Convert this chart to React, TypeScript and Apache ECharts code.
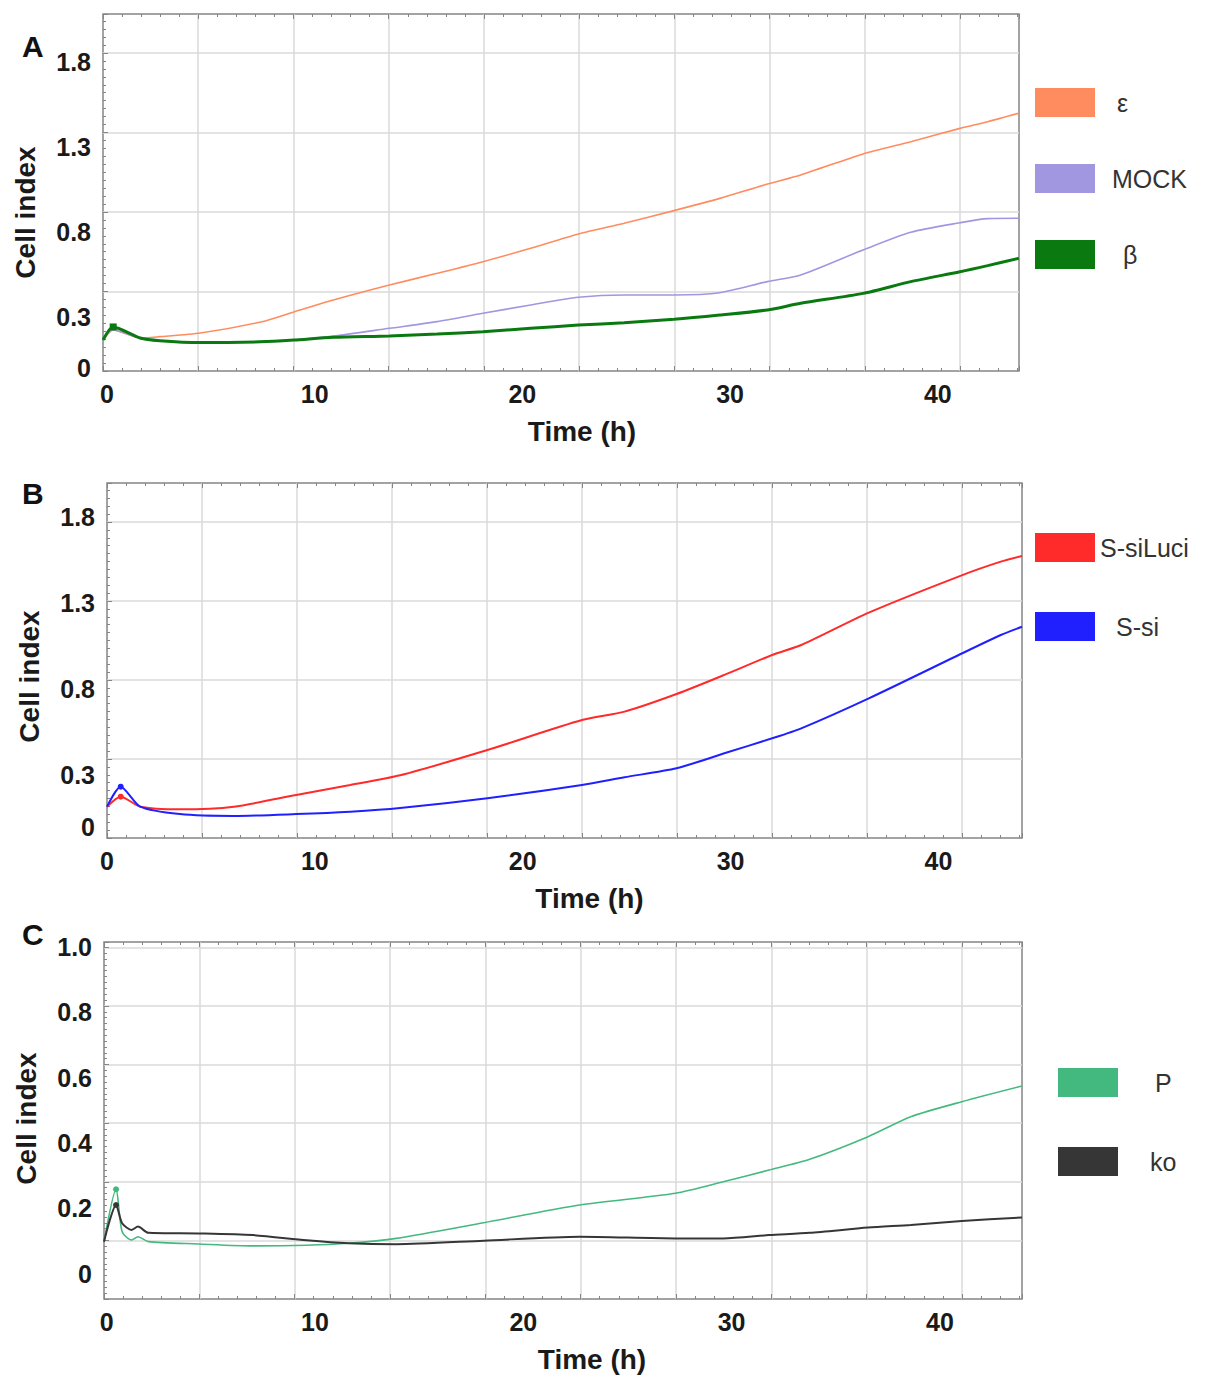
import React, { useEffect, useRef } from 'react';
import * as echarts from 'echarts';

const FONT = "'Liberation Sans', Arial, Helvetica, sans-serif";
const TEXT = '#1a1a1a';
const FRAME = '#858585';
const GRIDLINE = '#dadada';

// ---------- Panel A ----------
const timeA = [-0.19, 0.3, 1.6, 2.55, 4.5, 7.4, 9.0, 10.9, 13.6, 15.9, 18.1, 20.4, 22.7, 24.9, 27.3, 29.5, 31.8, 33.4, 36.4, 38.7, 41.07, 42.4, 43.9];
const epsilonA = [0.167, 0.226, 0.179, 0.187, 0.208, 0.273, 0.332, 0.402, 0.49, 0.559, 0.627, 0.706, 0.79, 0.853, 0.927, 0.999, 1.083, 1.136, 1.26, 1.332, 1.41, 1.449, 1.499];
const mockA = [0.167, 0.226, 0.177, 0.162, 0.153, 0.158, 0.168, 0.19, 0.236, 0.275, 0.324, 0.373, 0.418, 0.432, 0.432, 0.445, 0.51, 0.549, 0.696, 0.8, 0.856, 0.88, 0.882];
const betaA = [0.167, 0.244, 0.179, 0.163, 0.152, 0.157, 0.167, 0.183, 0.191, 0.203, 0.216, 0.236, 0.255, 0.269, 0.289, 0.314, 0.344, 0.383, 0.441, 0.51, 0.568, 0.604, 0.647];

// ---------- Panel B ----------
const timeB = [0, 0.66, 1.6, 3.5, 6.1, 9.1, 11.7, 14.1, 18.3, 22.85, 24.9, 27.4, 29.7, 32.0, 33.4, 36.65, 41.15, 43.0, 44.02];
const siLuciB = [0.118, 0.176, 0.118, 0.103, 0.118, 0.186, 0.244, 0.3, 0.447, 0.621, 0.67, 0.772, 0.883, 0.999, 1.057, 1.245, 1.463, 1.541, 1.574];
const siB = [0.118, 0.234, 0.118, 0.075, 0.064, 0.075, 0.089, 0.11, 0.167, 0.244, 0.289, 0.341, 0.428, 0.515, 0.573, 0.747, 1.009, 1.115, 1.163];

// ---------- Panel C ----------
const timeC = [-0.13, 0.45, 0.74, 1.2, 1.5, 2.0, 4.4, 7.0, 9.6, 11.6, 13.9, 18.1, 22.7, 27.3, 29.6, 31.8, 33.75, 36.55, 38.6, 41.05, 43.94];
const pC = [0.098, 0.258, 0.128, 0.103, 0.113, 0.098, 0.091, 0.085, 0.087, 0.093, 0.108, 0.156, 0.21, 0.246, 0.281, 0.317, 0.35, 0.419, 0.48, 0.526, 0.574];
const koC = [0.098, 0.21, 0.154, 0.134, 0.144, 0.125, 0.123, 0.118, 0.102, 0.093, 0.09, 0.101, 0.113, 0.108, 0.108, 0.118, 0.125, 0.141, 0.149, 0.161, 0.172];

// ---------- Tick labels ----------
const xTickLabels = [0, 10, 20, 30, 40];
const yTickLabelsAB = [0, 0.3, 0.8, 1.3, 1.8];
const yTickLabelsC = [0, 0.2, 0.4, 0.6, 0.8, 1.0];
const panelLetters = ['A', 'B', 'C'];

type SeriesDef = { name: string; time: number[]; values: number[]; color: string; width: number; peak?: number; peakSymbol?: string; pad: number };

const panels = [
  {
    box: [103, 14, 916, 357],
    xRange: [-0.19, 43.91],
    yRange: [-0.0147, 2.0816],
    gridX: 9.617,
    gridY: 4.49,
    yTicks: yTickLabelsAB,
    yFmt: (v: number) => String(v),
    xNameShift: 21,
    yNameShift: 20,
    letterTop: 31,
    legend: { left: 1035, top: 88, gap: 47, textColor: '#333' },
    series: [
      { name: 'ε', time: timeA, values: epsilonA, color: '#FF8C5F', width: 1.6, pad: 17 },
      { name: 'MOCK', time: timeA, values: mockA, color: '#A097E0', width: 1.6, pad: 12 },
      { name: 'β', time: timeA, values: betaA, color: '#0A7A10', width: 3, peak: 1, peakSymbol: 'rect', pad: 23 },
    ] as SeriesDef[],
  },
  {
    box: [107, 483, 915, 355],
    xRange: [0, 44.02],
    yRange: [-0.0639, 1.9977],
    gridX: 9.63,
    gridY: 4.494,
    yTicks: yTickLabelsAB,
    yFmt: (v: number) => String(v),
    xNameShift: 25,
    yNameShift: 16,
    letterTop: 478,
    legend: { left: 1035, top: 533, gap: 50, textColor: '#333' },
    series: [
      { name: 'S-siLuci', time: timeB, values: siLuciB, color: '#FF2A2A', width: 2, peak: 1, peakSymbol: 'circle', pad: 0 },
      { name: 'S-si', time: timeB, values: siB, color: '#2020FF', width: 2, peak: 1, peakSymbol: 'circle', pad: 16 },
    ] as SeriesDef[],
  },
  {
    box: [104, 942, 918, 357],
    xRange: [-0.13, 43.94],
    yRange: [-0.0774, 1.0144],
    gridX: 9.63,
    gridY: 6.09,
    yTicks: yTickLabelsC,
    yFmt: (v: number) => (v === 0 ? '0' : v.toFixed(1)),
    xNameShift: 29,
    yNameShift: -2,
    letterTop: 919,
    legend: { left: 1058, top: 1068, gap: 50, textColor: '#333' },
    series: [
      { name: 'P', time: timeC, values: pC, color: '#44B97F', width: 1.6, peak: 1, peakSymbol: 'circle', pad: 32 },
      { name: 'ko', time: timeC, values: koC, color: '#363636', width: 2, peak: 1, peakSymbol: 'circle', pad: 27 },
    ] as SeriesDef[],
  },
];

function buildOption() {
  const grid: any[] = [];
  const xAxis: any[] = [];
  const yAxis: any[] = [];
  const series: any[] = [];
  const legend: any[] = [];
  const title: any[] = [];

  const tickStyle = { color: FRAME, width: 1 };

  panels.forEach((p, i) => {
    const [left, top, width, height] = p.box;
    grid.push({ left, top, width, height, show: true, borderColor: FRAME, borderWidth: 1.5, backgroundColor: '#fff' });

    const xData = xAxis.length;
    xAxis.push({
      type: 'value', gridIndex: i, min: p.xRange[0], max: p.xRange[1], position: 'bottom',
      axisLine: { show: false, onZero: false }, axisTick: { show: false }, splitLine: { show: false },
      axisLabel: {
        customValues: xTickLabels, fontSize: 25, fontWeight: 'bold', color: TEXT, fontFamily: FONT, margin: 10,
        formatter: (v: number) => String(v),
      },
      name: 'Time (h)', nameLocation: 'middle', nameGap: 46,
      nameTextStyle: { fontSize: 28, fontWeight: 'bold', color: TEXT, fontFamily: FONT, padding: [0, 0, 0, p.xNameShift * 2] },
    });
    xAxis.push({
      type: 'value', gridIndex: i, min: 0, max: p.gridX, interval: 1, position: 'bottom',
      axisLine: { show: false, onZero: false }, axisLabel: { show: false },
      axisTick: { show: true, inside: true, length: 5, lineStyle: tickStyle },
      minorTick: { show: true, splitNumber: 5, length: 3, lineStyle: tickStyle },
      splitLine: { show: true, showMinLine: false, showMaxLine: false, lineStyle: { color: GRIDLINE, width: 1.5 } },
    });
    xAxis.push({
      type: 'value', gridIndex: i, min: 0, max: p.gridX, interval: 1, position: 'top',
      axisLine: { show: false, onZero: false }, axisLabel: { show: false },
      axisTick: { show: true, inside: true, length: 5, lineStyle: tickStyle },
      minorTick: { show: true, splitNumber: 5, length: 3, lineStyle: tickStyle },
      splitLine: { show: false },
    });

    const yData = yAxis.length;
    yAxis.push({
      type: 'value', gridIndex: i, min: p.yRange[0], max: p.yRange[1], position: 'left',
      axisLine: { show: false, onZero: false }, axisTick: { show: false }, splitLine: { show: false },
      axisLabel: {
        customValues: p.yTicks, fontSize: 25, fontWeight: 'bold', color: TEXT, fontFamily: FONT, margin: 12,
        formatter: p.yFmt,
      },
      name: 'Cell index', nameLocation: 'middle', nameGap: 64, nameRotate: 90,
      nameTextStyle: {
        fontSize: 28, fontWeight: 'bold', color: TEXT, fontFamily: FONT,
        padding: p.yNameShift >= 0 ? [0, p.yNameShift * 2, 0, 0] : [0, 0, 0, -p.yNameShift * 2],
      },
    });
    yAxis.push({
      type: 'value', gridIndex: i, min: 0, max: p.gridY, interval: 1, position: 'left',
      axisLine: { show: false, onZero: false }, axisLabel: { show: false },
      axisTick: { show: true, inside: true, length: 5, lineStyle: tickStyle },
      minorTick: { show: true, splitNumber: 10, length: 3, lineStyle: tickStyle },
      splitLine: { show: true, showMinLine: false, showMaxLine: false, lineStyle: { color: GRIDLINE, width: 1.5 } },
    });

    p.series.forEach((s) => {
      const item: any = {
        type: 'line', name: s.name, xAxisIndex: xData, yAxisIndex: yData,
        data: s.time.map((t, k) => [t, s.values[k]]),
        showSymbol: false, smooth: 0.25,
        color: s.color, lineStyle: { color: s.color, width: s.width },
        emphasis: { disabled: true }, silent: true,
      };
      if (s.peak != null) {
        item.markPoint = {
          silent: true,
          symbol: s.peakSymbol, symbolSize: s.peakSymbol === 'rect' ? 7 : 6,
          itemStyle: { color: s.color },
          label: { show: false },
          data: [{ coord: [s.time[s.peak], s.values[s.peak]] }],
        };
      }
      series.push(item);
    });

    const rich: any = {};
    p.series.forEach((s, k) => {
      rich['p' + k] = { fontSize: 25, color: p.legend.textColor, fontFamily: FONT, padding: [0, 0, 0, Math.max(0, s.pad)] };
    });
    const names = p.series.map((s) => s.name);
    legend.push({
      data: names, left: p.legend.left, top: p.legend.top, orient: 'vertical',
      itemWidth: 60, itemHeight: 29, itemGap: p.legend.gap, icon: 'rect', padding: 0,
      selectedMode: false,
      textStyle: { fontSize: 25, color: p.legend.textColor, fontFamily: FONT, rich },
      formatter: (name: string) => `{p${names.indexOf(name)}|${name}}`,
    });

    title.push({
      text: panelLetters[i], left: 22, top: p.letterTop, padding: 0,
      textStyle: { fontSize: 30, fontWeight: 'bold', color: '#111', fontFamily: FONT },
    });
  });

  return { animation: false, backgroundColor: '#fff', grid, xAxis, yAxis, series, legend, title };
}

export default function App() {
  const ref = useRef<HTMLDivElement>(null);
  useEffect(() => {
    if (!ref.current) return;
    const chart = echarts.init(ref.current, undefined, { renderer: 'svg' });
    chart.setOption(buildOption() as any);
    return () => chart.dispose();
  }, []);
  return <div ref={ref} style={{ position: 'absolute', left: 0, top: 0, width: 1205, height: 1389 }} />;
}
